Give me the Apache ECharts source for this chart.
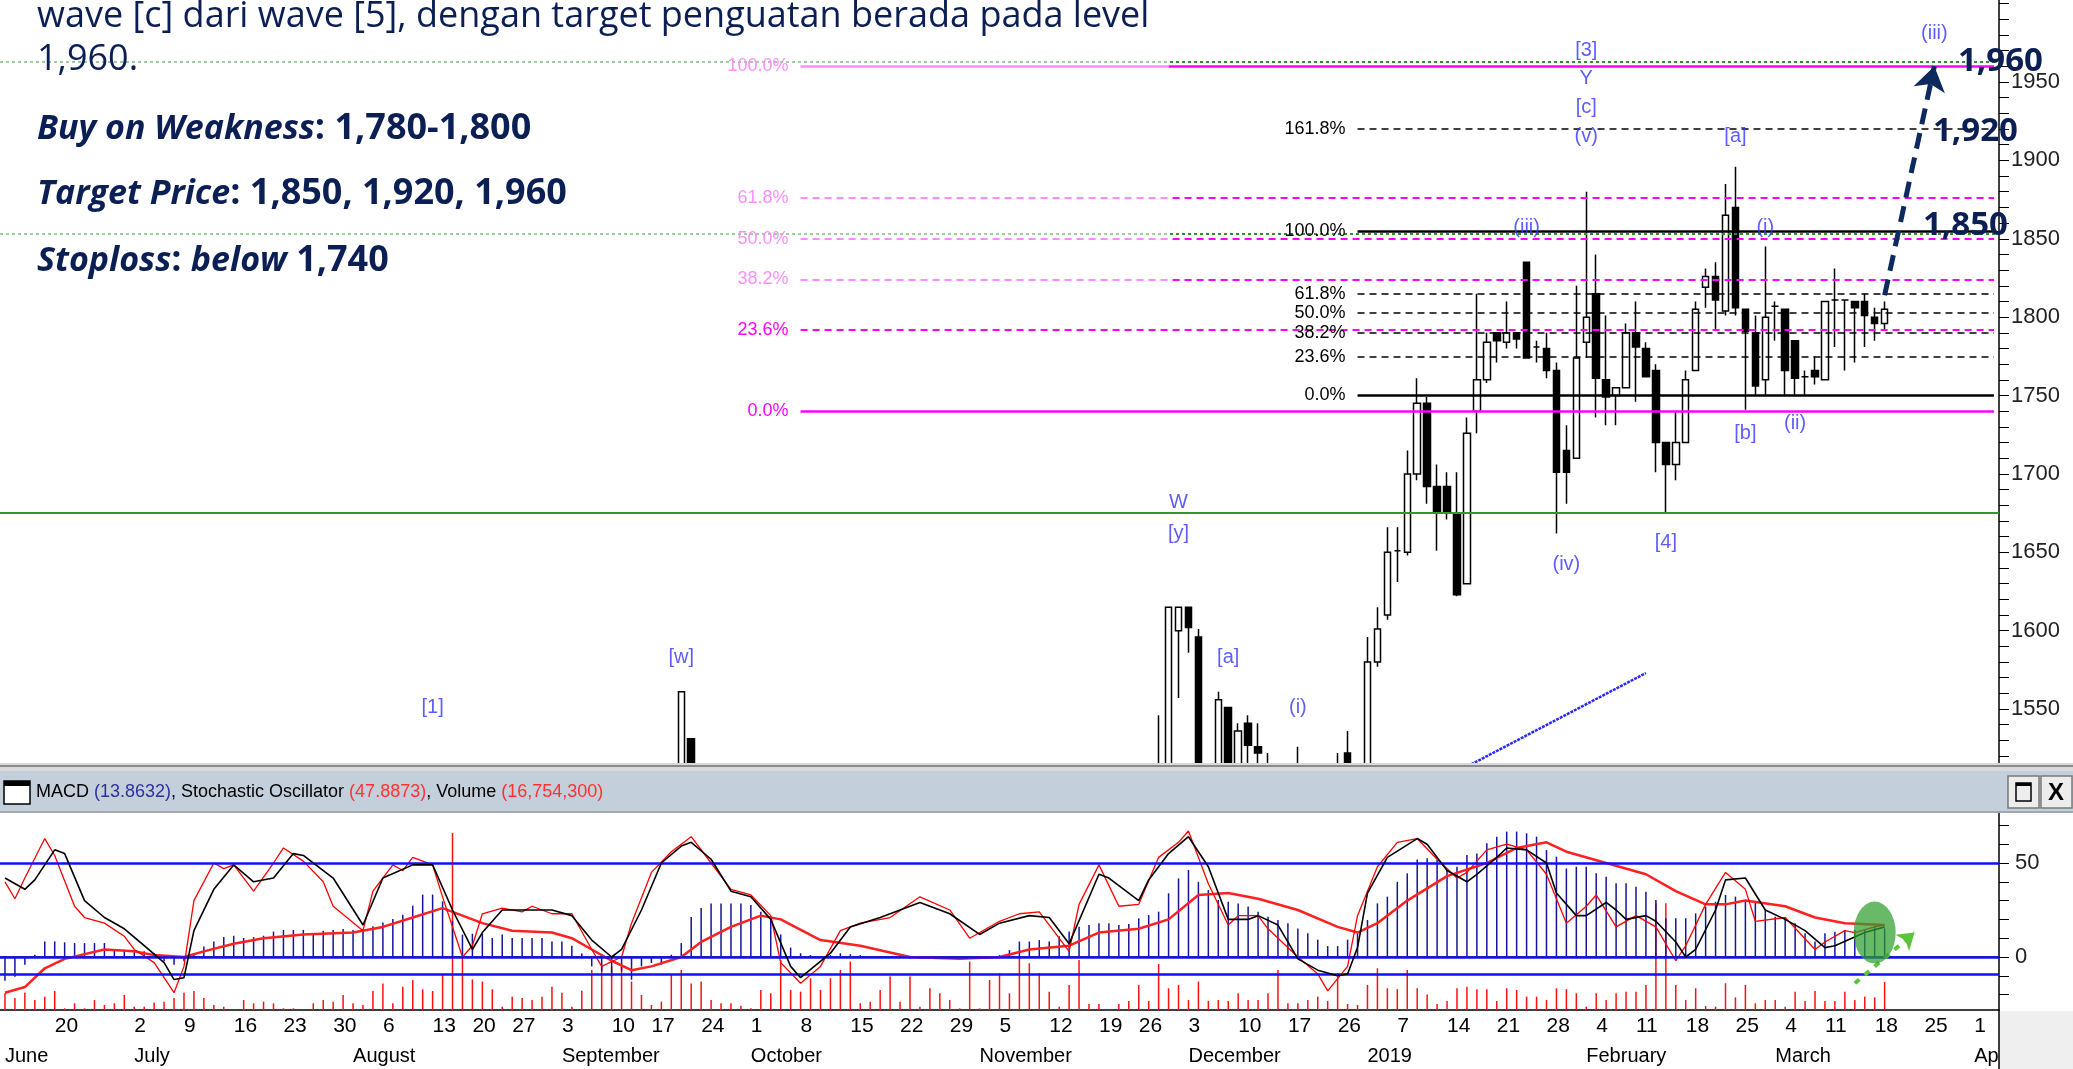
<!DOCTYPE html>
<html>
<head>
<meta charset="utf-8">
<script src="https://cdn.jsdelivr.net/npm/echarts@6/dist/echarts.min.js"></script>
<style>
  html, body { margin: 0; padding: 0; background: #fff; }
  #chart { width: 2073px; height: 1069px; }
</style>
</head>
<body>
<div id="chart"></div>
<script>
// IDX market holidays inside the window (trading days are the remaining weekdays)
var holidays = ['2018-06-11', '2018-06-12', '2018-06-13', '2018-06-14', '2018-06-15', '2018-06-18', '2018-06-19',
    '2018-08-17', '2018-08-22', '2018-09-11', '2018-11-20', '2018-12-24', '2018-12-25', '2018-12-31',
    '2019-01-01', '2019-02-05', '2019-03-07'];
var monthNames = ['January', 'February', 'March', 'April', 'May', 'June', 'July', 'August',
    'September', 'October', 'November', 'December'];

// price axis
var priceTicks = [1520, 1530, 1540, 1550, 1560, 1570, 1580, 1590, 1600, 1610, 1620, 1630, 1640, 1650, 1660,
    1670, 1680, 1690, 1700, 1710, 1720, 1730, 1740, 1750, 1760, 1770, 1780, 1790, 1800, 1810, 1820, 1830,
    1840, 1850, 1860, 1870, 1880, 1890, 1900, 1910, 1920, 1930, 1940, 1950, 1960, 1970, 1980, 1990, 2000];
var priceLabels = [1550, 1600, 1650, 1700, 1750, 1800, 1850, 1900, 1950];
var oscTicks = [-20, -10, 0, 10, 20, 30, 40, 50, 60, 70];
var oscLabels = [0, 50];

// [date, open, close, low, high]  (only candles that reach into the visible price range)
var candles = [
    ['2018-09-20', 1505, 1561, 1500, 1561], ['2018-09-21', 1531, 1505, 1500, 1531],
    ['2018-11-28', 1505, 1508, 1500, 1546], ['2018-11-29', 1505, 1615, 1500, 1615],
    ['2018-11-30', 1600, 1615, 1557, 1615], ['2018-12-03', 1615, 1602, 1586, 1615],
    ['2018-12-04', 1596, 1505, 1500, 1601], ['2018-12-06', 1505, 1556, 1500, 1561],
    ['2018-12-07', 1551, 1505, 1500, 1551], ['2018-12-10', 1505, 1536, 1500, 1541],
    ['2018-12-11', 1541, 1527, 1505, 1546], ['2018-12-12', 1526, 1522, 1505, 1541],
    ['2018-12-13', 1508, 1505, 1500, 1522], ['2018-12-18', 1505, 1508, 1500, 1526],
    ['2018-12-26', 1505, 1508, 1500, 1522], ['2018-12-27', 1522, 1510, 1505, 1536],
    ['2019-01-02', 1510, 1580, 1505, 1596], ['2019-01-03', 1580, 1601, 1577, 1615],
    ['2019-01-04', 1610, 1650, 1607, 1666], ['2019-01-07', 1651, 1651, 1631, 1666],
    ['2019-01-08', 1650, 1700, 1648, 1715], ['2019-01-09', 1700, 1745, 1696, 1761],
    ['2019-01-10', 1745, 1692, 1681, 1749], ['2019-01-11', 1692, 1675, 1651, 1706],
    ['2019-01-14', 1692, 1675, 1671, 1701], ['2019-01-15', 1675, 1623, 1622, 1701],
    ['2019-01-16', 1630, 1726, 1630, 1736], ['2019-01-17', 1740, 1760, 1726, 1815],
    ['2019-01-18', 1760, 1784, 1758, 1790], ['2019-01-21', 1790, 1785, 1771, 1790],
    ['2019-01-22', 1784, 1790, 1780, 1810], ['2019-01-23', 1790, 1786, 1780, 1790],
    ['2019-01-24', 1835, 1774, 1774, 1835], ['2019-01-25', 1781, 1781, 1771, 1785],
    ['2019-01-28', 1780, 1766, 1761, 1790], ['2019-01-29', 1766, 1701, 1662, 1771],
    ['2019-01-30', 1715, 1701, 1681, 1731], ['2019-01-31', 1710, 1774, 1710, 1820],
    ['2019-02-01', 1784, 1800, 1774, 1880], ['2019-02-04', 1815, 1761, 1736, 1840],
    ['2019-02-06', 1760, 1749, 1731, 1801], ['2019-02-07', 1750, 1755, 1731, 1755],
    ['2019-02-08', 1755, 1790, 1755, 1796], ['2019-02-11', 1790, 1781, 1746, 1810],
    ['2019-02-12', 1780, 1762, 1762, 1784], ['2019-02-13', 1766, 1720, 1701, 1770],
    ['2019-02-14', 1720, 1706, 1675, 1720], ['2019-02-15', 1706, 1720, 1696, 1740],
    ['2019-02-18', 1720, 1760, 1720, 1766], ['2019-02-19', 1766, 1805, 1766, 1810],
    ['2019-02-20', 1819, 1826, 1806, 1831], ['2019-02-21', 1826, 1811, 1792, 1835],
    ['2019-02-22', 1804, 1865, 1801, 1885], ['2019-02-25', 1870, 1806, 1801, 1896],
    ['2019-02-26', 1805, 1791, 1741, 1805], ['2019-02-27', 1790, 1756, 1750, 1801],
    ['2019-02-28', 1760, 1800, 1750, 1845], ['2019-03-01', 1807, 1807, 1785, 1810],
    ['2019-03-04', 1805, 1766, 1750, 1805], ['2019-03-05', 1785, 1761, 1750, 1785],
    ['2019-03-06', 1762, 1762, 1750, 1766], ['2019-03-08', 1766, 1762, 1757, 1775],
    ['2019-03-11', 1760, 1810, 1760, 1810], ['2019-03-12', 1811, 1811, 1781, 1831],
    ['2019-03-13', 1811, 1811, 1766, 1811], ['2019-03-14', 1810, 1806, 1771, 1810],
    ['2019-03-15', 1810, 1801, 1781, 1815], ['2019-03-18', 1800, 1796, 1785, 1806],
    ['2019-03-19', 1796, 1805, 1792, 1810]
];
var lastPrice = 1805;

// fibonacci sets: [low, high, start date, levels]
var fibMagenta = [1740, 1960, '2018-10-08', [0, 23.6, 38.2, 50, 61.8, 100]];
var fibBlack = [1750, 1855, '2018-12-28', [0, 23.6, 38.2, 50, 61.8, 100, 161.8]];
var greenDotted = [1963, 1853];
var greenSolid = 1675;

// Elliott wave labels [date, price, text]
var waveLabels = [
    ['2019-02-01', 1970, '[3]'], ['2019-02-01', 1952, 'Y'], ['2019-02-01', 1934, '[c]'],
    ['2019-02-01', 1915, '(v)'], ['2019-03-26', 1981, '(iii)'], ['2019-02-25', 1915, '[a]'],
    ['2019-01-24', 1857, '(iii)'], ['2019-02-28', 1857, '(i)'], ['2019-02-26', 1726, '[b]'],
    ['2019-03-05', 1732, '(ii)'], ['2019-01-30', 1642, '(iv)'], ['2019-02-14', 1656, '[4]'],
    ['2018-11-30', 1682, 'W'], ['2018-11-30', 1662, '[y]'], ['2018-12-07', 1583, '[a]'],
    ['2018-12-18', 1551, '(i)'], ['2018-09-20', 1583, '[w]'], ['2018-08-13', 1551, '[1]']
];
var trendLine = [['2019-01-15', 1510], ['2019-02-12', 1573]];
var targetArrow = [['2019-03-19', 1814], ['2019-03-26', 1960]];

// indicator panel, one value per trading day from 2018-06-04 to 2019-03-19
var macdHist = [-12.6, -10.5, -4.1, 1.2, 8.3, 8.3, 7.8, 7.4, 7.4, 7.4,
    7.4, 3.9, 3.9, 3.9, 3, 2.1, -2.3, -4.1, -2.3, 2.1,
    5.6, 8.3, 10.6, 11.3, 10.1, 10.6, 11.3, 13.5, 14.4, 14.4,
    14.4, 12.6, 14, 14.4, 14.9, 14.4, 14.4, 16.3, 18.4, 20.2,
    22.5, 27.3, 33.2, 33.2, 29.6, 19, 11.9, 12.4, 12.4, 10.1,
    11.9, 10.1, 10.1, 10.1, 10.1, 8.3, 8.3, 6, 1.8, -5,
    -7.6, -10.3, -7.6, -12.1, -5, -3.2, -4.1, 1.2, 7.4, 21.3,
    26.1, 28.5, 28.5, 28.5, 28.5, 27.6, 24.1, 19.7, 12, 5,
    2, 1, 0.5, 1, 2, 1.5, 1, 0.5, 0, 0,
    -0.5, -1, -1, 0, 0, -1, -1.5, -1, 0, 0.5,
    1, 3.7, 8.2, 8.2, 9, 8.2, 11, 13.5, 16.1, 17,
    17.9, 17.9, 17, 17.5, 20.6, 22.3, 24.1, 33.9, 41.8, 46.3,
    40, 35.6, 30.3, 29.4, 28.5, 26.8, 24.1, 21.4, 19.7, 17.9,
    15.2, 12.6, 9.2, 5.8, 5.8, 9.2, 12.6, 19.7, 28.5, 32.1,
    40, 44.5, 51.9, 52.5, 51.6, 46.3, 48, 54.2, 55.1, 60.5,
    64, 66.7, 66.7, 65.8, 64, 56.9, 53.4, 47.1, 48, 48,
    44.5, 42.7, 39.2, 39.2, 37.4, 34.7, 30.3, 20.6, 20.6, 20.6,
    23.2, 26.8, 29.4, 33, 32.1, 29.4, 29.4, 24.9, 21.4, 20.6,
    17.9, 12.6, 8.2, 12.6, 13.4, 14.3, 14.3, 14.3, 16.1, 15.2];
var volume = [10, 7.2, 10.4, 6, 8, 11.4, 1, 4, 1, 6,
    3, 4, 9, 2, 2, 4.5, 5, 7.2, 10.4, 11.4,
    7.2, 3, 2, 0.5, 6, 4, 5, 4, 1, 1,
    0.5, 4, 6, 5, 9, 4, 3, 11.4, 15.9, 4,
    14, 17.9, 12.4, 11.4, 20.9, 106, 31.7, 18.3, 17, 12.4,
    2, 8, 7.2, 6, 8, 14, 10.4, 2, 11.6, 24,
    27, 26, 27, 17, 9, 3, 5, 21.3, 24, 15.9,
    17, 6, 4, 4, 2.6, 1, 12, 10, 30, 12,
    11, 19, 12, 19, 24, 29, 4, 5, 12, 20,
    5, 20, 2, 13, 10, 6, 1, 29, 1, 18,
    22, 10, 32, 28, 22, 11, 2, 15, 30, 3.6,
    3.6, 0.6, 3.6, 5.4, 15, 5.4, 27.5, 13, 15, 6,
    17, 5.4, 6, 5.4, 10, 6, 6, 10, 24, 4,
    4, 6, 8, 5.4, 22, 3.6, 3, 15, 25, 13,
    12.5, 24, 13, 9.3, 3.6, 5.4, 13, 14, 12.5, 12.5,
    5.4, 13, 12, 8, 8, 6, 13, 12.5, 10, 2,
    10, 6, 10, 11, 11, 15, 64, 64, 15, 6,
    13, 2.4, 2, 16, 7.6, 15, 4, 6, 6, 2,
    11, 5.4, 11.4, 5.4, 5.4, 11, 6, 8, 7.6, 16.75];
// line turning points [trading-day index, value]
var stochD = [[0, 42], [2, 36], [3, 41], [5, 57], [6, 55], [8, 30], [10, 21], [12, 15], [14, 6], [16, -3],
    [17, -12], [18, -11], [19, 14], [21, 36], [23, 49], [25, 40], [27, 42], [29, 55], [30, 54], [33, 42],
    [36, 17], [38, 42], [41, 49], [43, 49], [45, 25], [47, 4], [48, 13], [50, 25], [55, 25], [57, 22],
    [59, 9], [61, 0], [62, 4], [64, 25], [66, 50], [68, 59], [69, 61], [71, 52], [73, 35], [75, 32],
    [77, 20], [79, -5], [80, -11], [83, 2], [85, 16], [88, 21], [92, 29], [95, 23], [98, 12], [100, 18],
    [103, 22], [105, 21], [107, 7], [110, 44], [111, 42], [114, 30], [115, 41], [117, 55], [119, 64],
    [121, 48], [123, 20], [125, 20], [126, 22], [128, 17], [130, -1], [132, -7], [134, -10], [135, -9],
    [136, 5], [137, 34], [139, 53], [142, 63], [143, 60], [145, 46], [147, 40], [148, 44], [150, 53],
    [151, 58], [153, 57], [155, 50], [156, 34], [158, 22], [159, 22], [161, 29], [162, 25], [163, 20],
    [165, 22], [166, 19], [168, 8], [169, 0], [170, 4], [172, 25], [173, 41], [175, 42], [177, 25],
    [179, 20], [181, 14], [183, 5], [184, 6], [187, 13], [189, 16]];
var stochK = [[0, 40], [1, 31], [2, 42], [4, 63], [5, 54], [7, 27], [8, 21], [10, 18], [12, 11], [13, 4],
    [15, -3], [17, -19], [18, -5], [19, 30], [21, 50], [22, 47], [23, 49], [25, 35], [27, 50], [28, 58],
    [30, 51], [32, 40], [33, 27], [36, 14], [37, 35], [39, 49], [40, 46], [41, 53], [43, 49], [44, 32],
    [46, 0], [47, 6], [48, 23], [50, 26], [52, 24], [53, 27], [55, 23], [57, 23], [59, 4], [60, -5],
    [62, 0], [63, 18], [65, 45], [67, 56], [69, 64], [71, 50], [73, 36], [75, 33], [77, 22], [78, -3],
    [80, -14], [82, -5], [84, 14], [86, 18], [89, 21], [92, 32], [95, 25], [97, 10], [100, 19], [102, 23],
    [104, 24], [107, 3], [108, 28], [110, 49], [112, 27], [114, 28], [116, 53], [118, 61], [119, 67],
    [121, 39], [123, 17], [124, 22], [126, 22], [127, 15], [130, 0], [132, -9], [133, -18], [135, -5],
    [136, 22], [138, 48], [140, 61], [142, 63], [144, 52], [146, 42], [147, 45], [149, 57], [151, 60],
    [153, 57], [155, 44], [157, 18], [159, 27], [160, 33], [162, 16], [164, 22], [166, 16], [168, -2],
    [169, 6], [171, 28], [173, 45], [175, 36], [176, 19], [179, 21], [182, 4], [183, 8], [185, 14],
    [186, 13], [188, 16], [189, 17]];
var signal = [[0, -19], [2, -16], [4, -6], [6, -1], [10, 4], [13, 3], [15, 1], [18, 0], [20, 3], [23, 7],
    [26, 10], [30, 12], [35, 13], [38, 16], [41, 21], [44, 26], [46, 22], [48, 18], [51, 14], [55, 13],
    [57, 10], [59, 4], [61, -2], [63, -7], [65, -5], [68, 0], [70, 8], [73, 16], [76, 22], [78, 20],
    [82, 9], [86, 6], [91, 0], [96, -1], [100, 0], [103, 4], [107, 6], [110, 13], [114, 15], [117, 20],
    [120, 33], [123, 34], [126, 31], [130, 25], [134, 16], [136, 13], [138, 18], [141, 30], [145, 43],
    [149, 50], [152, 58], [155, 61], [157, 56], [161, 50], [165, 44], [168, 35], [171, 28], [173, 28],
    [175, 30], [179, 27], [182, 21], [185, 18], [189, 17]];
var oscLevels = [50, 0, -9];
var greenArrow = [['2019-03-14', -14], ['2019-03-22', 13]];
var greenBlob = ['2019-03-18', 13];

function pad(n) { return n < 10 ? '0' + n : '' + n; }
function fmt(d) { return d.getFullYear() + '-' + pad(d.getMonth() + 1) + '-' + pad(d.getDate()); }

var days = [];
for (var d = new Date(2018, 5, 4); d <= new Date(2019, 3, 3); d.setDate(d.getDate() + 1)) {
    var wd = d.getDay();
    if (wd === 0 || wd === 6 || holidays.indexOf(fmt(d)) >= 0) continue;
    days.push(fmt(d));
}
var lastDay = days[days.length - 1];

// week and month boundaries for the date rows
function weekKey(s) {
    var p = s.split('-'), dt = new Date(+p[0], +p[1] - 1, +p[2]);
    dt.setDate(dt.getDate() - (dt.getDay() + 6) % 7);
    return fmt(dt);
}
var weekStart = [], weekLabel = [], monthStart = [], prevLab = -10;
days.forEach(function (s, i) {
    var ws = i > 0 && weekKey(s) !== weekKey(days[i - 1]);
    weekStart.push(ws);
    var lab = ws && i - prevLab >= 4;
    if (lab) prevLab = i;
    weekLabel.push(lab);
    monthStart.push(i === 0 || s.slice(5, 7) !== days[i - 1].slice(5, 7));
});

var candleMap = {};
candles.forEach(function (c) { candleMap[c[0]] = [c[1], c[2], c[3], c[4]]; });
var candleData = days.map(function (s) { return candleMap[s] || '-'; });
function pts(arr) { return arr.map(function (p) { return [days[p[0]], p[1]]; }); }

var FONT = 'Liberation Sans';

function fibMarks(fib, color, solidW, dashW) {
    var low = fib[0], high = fib[1], start = fib[2];
    return fib[3].map(function (lv) {
        var p = low + (high - low) * lv / 100;
        var solid = lv === 0 || lv === 100;
        return [{
            coord: [start, p],
            lineStyle: { color: color, width: solid ? solidW : dashW, type: solid ? 'solid' : [7, 5] },
            label: {
                show: true, position: 'start', distance: 12, formatter: lv.toFixed(1) + '%',
                color: color, fontSize: 18, fontFamily: FONT
            }
        }, { coord: [lastDay, p] }];
    });
}

var priceMarks = fibMarks(fibMagenta, '#ff00ff', 2.5, 2)
    .concat(fibMarks(fibBlack, '#000', 2.5, 1.6));
greenDotted.forEach(function (p) {
    priceMarks.push({ yAxis: p, lineStyle: { color: '#2f8f2f', width: 2, type: [3, 3] }, label: { show: false } });
});
priceMarks.push({ yAxis: greenSolid, lineStyle: { color: '#2e9a2e', width: 2, type: 'solid' }, label: { show: false } });
priceMarks.push({
    yAxis: lastPrice, lineStyle: { opacity: 0 },
    label: {
        show: true, position: 'end', distance: 4, formatter: lastPrice.toFixed(3),
        backgroundColor: '#000', color: '#2ee82e', fontSize: 20, fontFamily: FONT, padding: [5, 3]
    }
});
priceMarks.push([
    { coord: targetArrow[0], symbol: 'none', lineStyle: { color: '#0c2a5e', width: 5, type: [16, 9] }, label: { show: false } },
    { coord: targetArrow[1], symbol: 'arrow', symbolSize: 24 }
]);

var navy = '#0b1f54';
var textFont = 'Open Sans';
function richLine(parts) {
    return parts.map(function (p) { return '{s' + p[0] + '|' + p[1] + '}'; }).join('');
}
var rich = {
    s0: { fontSize: 34, fontFamily: textFont, fontWeight: 'bold', fontStyle: 'italic', fill: navy },
    s1: { fontSize: 36, fontFamily: textFont, fontWeight: 'bold', fill: navy }
};

var myChart = echarts.init(document.getElementById('chart'), null, { renderer: 'canvas' });
var option = {
    animation: false,
    backgroundColor: '#fff',
    textStyle: { fontFamily: FONT },
    grid: [
        { left: 0, right: 74, top: 0, height: 763 },
        { left: 0, right: 74, top: 813, height: 197 }
    ],
    xAxis: [
        { type: 'category', gridIndex: 0, data: days, boundaryGap: true, show: false },
        {
            type: 'category', gridIndex: 1, data: days, boundaryGap: true, position: 'bottom',
            axisLine: { lineStyle: { color: '#000', width: 1.5 } },
            axisTick: { interval: function (i) { return weekStart[i]; }, length: 30, lineStyle: { color: '#000', width: 1.5 } },
            axisLabel: {
                interval: function (i) { return weekLabel[i]; }, align: 'left', margin: 6,
                formatter: function (v) { return String(+v.slice(8)); },
                color: '#000', fontSize: 21, fontFamily: FONT
            }
        },
        {
            type: 'category', gridIndex: 1, data: days, boundaryGap: true, position: 'bottom', offset: 30,
            axisLine: { lineStyle: { color: '#000', width: 1.5 } },
            axisTick: { interval: function (i) { return monthStart[i]; }, length: 30, lineStyle: { color: '#000', width: 1.5 } },
            axisLabel: {
                interval: function (i) { return monthStart[i]; }, align: 'left', margin: 6,
                formatter: function (v) { var m = +v.slice(5, 7); return m === 1 ? v.slice(0, 4) : monthNames[m - 1]; },
                color: '#000', fontSize: 20, fontFamily: FONT
            }
        }
    ],
    yAxis: [
        {
            type: 'value', gridIndex: 0, position: 'right', min: 1515.6, max: 2002.3,
            splitLine: { show: false },
            axisLine: { show: true, lineStyle: { color: '#000', width: 1.5 } },
            axisTick: { show: true, customValues: priceTicks, length: 10, lineStyle: { color: '#000' } },
            axisLabel: {
                customValues: priceLabels, color: '#222', fontSize: 22, margin: 12, fontFamily: FONT,
                formatter: function (v) { return String(v); }
            }
        },
        {
            type: 'value', gridIndex: 1, position: 'right', min: -28.2, max: 76.6,
            splitLine: { show: false },
            axisLine: { show: true, lineStyle: { color: '#000', width: 1.5 } },
            axisTick: { show: true, customValues: oscTicks, length: 10, lineStyle: { color: '#000' } },
            axisLabel: { customValues: oscLabels, color: '#222', fontSize: 22, margin: 16, fontFamily: FONT }
        },
        { type: 'value', gridIndex: 1, min: 0, max: 118, show: false }
    ],
    series: [
        {
            type: 'candlestick', xAxisIndex: 0, yAxisIndex: 0, data: candleData, barWidth: 7,
            itemStyle: { color: '#fff', color0: '#000', borderColor: '#000', borderColor0: '#000', borderWidth: 1.5 },
            markLine: { silent: true, symbol: 'none', animation: false, data: priceMarks }
        },
        {
            type: 'line', xAxisIndex: 0, yAxisIndex: 0, data: trendLine, symbol: 'none',
            lineStyle: { color: '#2a2aff', width: 2.5, type: [3, 1] }
        },
        {
            type: 'scatter', xAxisIndex: 0, yAxisIndex: 0, symbolSize: 0, z: 5,
            data: waveLabels.map(function (w) { return { name: w[2], value: [w[0], w[1]] }; }),
            label: { show: true, position: 'inside', formatter: '{b}', color: '#3434ff', fontSize: 20, fontFamily: FONT }
        },
        {
            type: 'bar', xAxisIndex: 1, yAxisIndex: 2, data: volume, barWidth: 1.5, barGap: '-100%',
            itemStyle: { color: '#ff1010' }, z: 1
        },
        {
            type: 'bar', xAxisIndex: 1, yAxisIndex: 1, data: macdHist, barWidth: 1.5, barGap: '-100%',
            itemStyle: { color: '#14149a' }, z: 2,
            markLine: {
                silent: true, symbol: 'none', animation: false,
                data: oscLevels.map(function (v) {
                    return { yAxis: v, lineStyle: { color: '#1010ff', width: 2.5, type: 'solid' }, label: { show: false } };
                }).concat([[
                    { coord: greenArrow[0], symbol: 'none', lineStyle: { color: '#5cc43c', width: 4, type: [6, 7] }, label: { show: false } },
                    { coord: greenArrow[1], symbol: 'arrow', symbolSize: 16 }
                ]])
            }
        },
        {
            type: 'line', xAxisIndex: 1, yAxisIndex: 1, data: pts(signal), symbol: 'none', z: 3,
            lineStyle: { color: '#ff2020', width: 2.5 }
        },
        {
            type: 'line', xAxisIndex: 1, yAxisIndex: 1, data: pts(stochK), symbol: 'none', z: 4,
            lineStyle: { color: '#ff0000', width: 1.3 }
        },
        {
            type: 'line', xAxisIndex: 1, yAxisIndex: 1, data: pts(stochD), symbol: 'none', z: 5,
            lineStyle: { color: '#000', width: 1.6 }
        },
        {
            type: 'scatter', xAxisIndex: 1, yAxisIndex: 1, data: [greenBlob], symbol: 'circle',
            symbolSize: [42, 62], itemStyle: { color: 'rgba(46,160,46,0.9)' }, z: 6
        }
    ],
    graphic: [
        // white wash behind the pasted analysis text
        { type: 'rect', z: 50, shape: { x: 0, y: 0, width: 1169, height: 300 }, style: { fill: 'rgba(255,255,255,0.55)' } },
        { type: 'text', z: 60, x: 37, y: 17, style: { text: 'wave [c] dari wave [5], dengan target penguatan berada pada level', fontSize: 36, fontFamily: textFont, fill: navy, verticalAlign: 'middle' } },
        { type: 'text', z: 60, x: 37, y: 60, style: { text: '1,960.', fontSize: 36, fontFamily: textFont, fill: navy, verticalAlign: 'middle' } },
        { type: 'text', z: 60, x: 37, y: 129, style: { text: richLine([[0, 'Buy on Weakness'], [1, ': 1,780-1,800']]), rich: rich, verticalAlign: 'middle' } },
        { type: 'text', z: 60, x: 37, y: 194, style: { text: richLine([[0, 'Target Price'], [1, ': 1,850, 1,920, 1,960']]), rich: rich, verticalAlign: 'middle' } },
        { type: 'text', z: 60, x: 37, y: 261, style: { text: richLine([[0, 'Stoploss'], [1, ': '], [0, 'below'], [1, ' 1,740']]), rich: rich, verticalAlign: 'middle' } },
        // target price call-outs
        { type: 'text', z: 60, x: 1958, y: 62, style: { text: '1,960', fontSize: 33, fontWeight: 'bold', fontFamily: textFont, fill: navy, verticalAlign: 'middle' } },
        { type: 'text', z: 60, x: 1933, y: 132, style: { text: '1,920', fontSize: 33, fontWeight: 'bold', fontFamily: textFont, fill: navy, verticalAlign: 'middle' } },
        { type: 'text', z: 60, x: 1923, y: 226, style: { text: '1,850', fontSize: 33, fontWeight: 'bold', fontFamily: textFont, fill: navy, verticalAlign: 'middle' } },
        // pane separator and indicator title bar
        { type: 'rect', z: 40, shape: { x: 0, y: 763, width: 2073, height: 8 }, style: { fill: '#dadada' } },
        { type: 'line', z: 41, shape: { x1: 0, y1: 766, x2: 2073, y2: 766 }, style: { stroke: '#8a8a8a', lineWidth: 2 } },
        { type: 'rect', z: 40, shape: { x: 0, y: 771, width: 2073, height: 41 }, style: { fill: '#c3cfdb' } },
        { type: 'line', z: 41, shape: { x1: 0, y1: 812, x2: 2073, y2: 812 }, style: { stroke: '#a0a8b0', lineWidth: 2 } },
        { type: 'rect', z: 42, shape: { x: 4, y: 781, width: 26, height: 23 }, style: { fill: '#fff', stroke: '#000', lineWidth: 1.5 } },
        { type: 'rect', z: 43, shape: { x: 4, y: 781, width: 26, height: 5 }, style: { fill: '#000' } },
        {
            type: 'text', z: 42, x: 36, y: 792, style: {
                text: '{k|MACD }{b|(13.8632)}{k|, Stochastic Oscillator }{r|(47.8873)}{k|, Volume }{r|(16,754,300)}',
                verticalAlign: 'middle',
                rich: {
                    k: { fontSize: 18, fontFamily: FONT, fill: '#000' },
                    b: { fontSize: 18, fontFamily: FONT, fill: '#30309a' },
                    r: { fontSize: 18, fontFamily: FONT, fill: '#ff3030' }
                }
            }
        },
        { type: 'rect', z: 42, shape: { x: 2008, y: 776, width: 31, height: 32 }, style: { fill: '#ededed', stroke: '#7a7a7a', lineWidth: 1.5 } },
        { type: 'rect', z: 43, shape: { x: 2016, y: 783, width: 15, height: 18 }, style: { fill: 'none', stroke: '#000', lineWidth: 1.5 } },
        { type: 'rect', z: 43, shape: { x: 2016, y: 783, width: 15, height: 3 }, style: { fill: '#000' } },
        { type: 'rect', z: 42, shape: { x: 2041, y: 776, width: 31, height: 32 }, style: { fill: '#ededed', stroke: '#7a7a7a', lineWidth: 1.5 } },
        { type: 'text', z: 43, x: 2056, y: 793, style: { text: 'X', fontSize: 24, fontWeight: 'bold', fontFamily: FONT, fill: '#000', align: 'center', verticalAlign: 'middle' } },
        // corner under the value scales
        { type: 'rect', z: 40, shape: { x: 1999, y: 1011, width: 74, height: 58 }, style: { fill: '#efefef' } },
        { type: 'line', z: 41, shape: { x1: 1999, y1: 1010, x2: 1999, y2: 1069 }, style: { stroke: '#000', lineWidth: 1.5 } }
    ]
};
myChart.setOption(option);
</script>
</body>
</html>
